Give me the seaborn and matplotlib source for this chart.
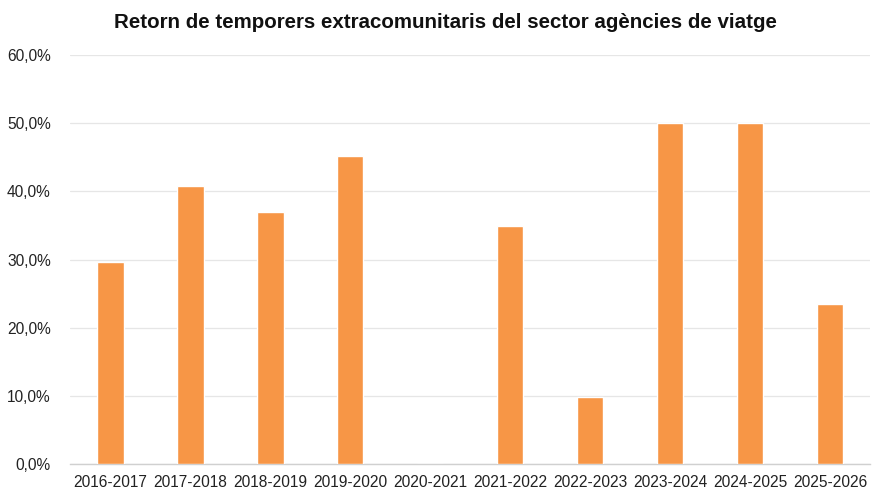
import matplotlib
matplotlib.use("Agg")
import matplotlib.pyplot as plt
import seaborn as sns
import pandas as pd
from matplotlib.ticker import FuncFormatter

SEASONS = [
    "2016-2017", "2017-2018", "2018-2019", "2019-2020", "2020-2021",
    "2021-2022", "2022-2023", "2023-2024", "2024-2025", "2025-2026",
]
RETURN_PCT = [29.6, 40.8, 37.0, 45.2, 0.0, 34.9, 9.8, 50.0, 50.0, 23.5]
TITLE = "Retorn de temporers extracomunitaris del sector agències de viatge"


def pct_fmt(v, _pos):
    return f"{v:.1f}%".replace(".", ",")


def main():
    df = pd.DataFrame({"season": SEASONS, "pct": RETURN_PCT})

    sns.set_style("white")
    plt.rcParams["font.family"] = ["Liberation Sans", "DejaVu Sans"]

    fig = plt.figure(figsize=(8.77, 4.93), dpi=100)
    ax = fig.add_axes([0.080, 0.059, 0.912, 0.829])

    sns.barplot(data=df, x="season", y="pct", color="#F79646",
                saturation=1, width=0.335, ax=ax, zorder=3)

    ax.set_ylim(0, 60)
    ax.set_yticks(range(0, 61, 10))
    ax.yaxis.set_major_formatter(FuncFormatter(pct_fmt))
    ax.grid(axis="y", color="#E6E6E6", linewidth=0.9, zorder=0)
    ax.set_axisbelow(True)

    for side in ["top", "right", "left"]:
        ax.spines[side].set_visible(False)
    ax.spines["bottom"].set_color("#D0D0D0")
    ax.spines["bottom"].set_linewidth(1.0)

    ax.tick_params(axis="both", length=0, labelsize=11.2, colors="#222222")
    ax.tick_params(axis="x", pad=8)
    ax.tick_params(axis="y", pad=14)
    ax.set_xlabel("")
    ax.set_ylabel("")
    ax.set_xlim(-0.5, len(SEASONS) - 0.5)

    fig.text(0.508, 0.955, TITLE, ha="center", va="center",
             fontsize=14.8, fontweight="bold", color="#111111")

    fig.savefig("out.png", dpi=100)
    plt.close(fig)


if __name__ == "__main__":
    main()
